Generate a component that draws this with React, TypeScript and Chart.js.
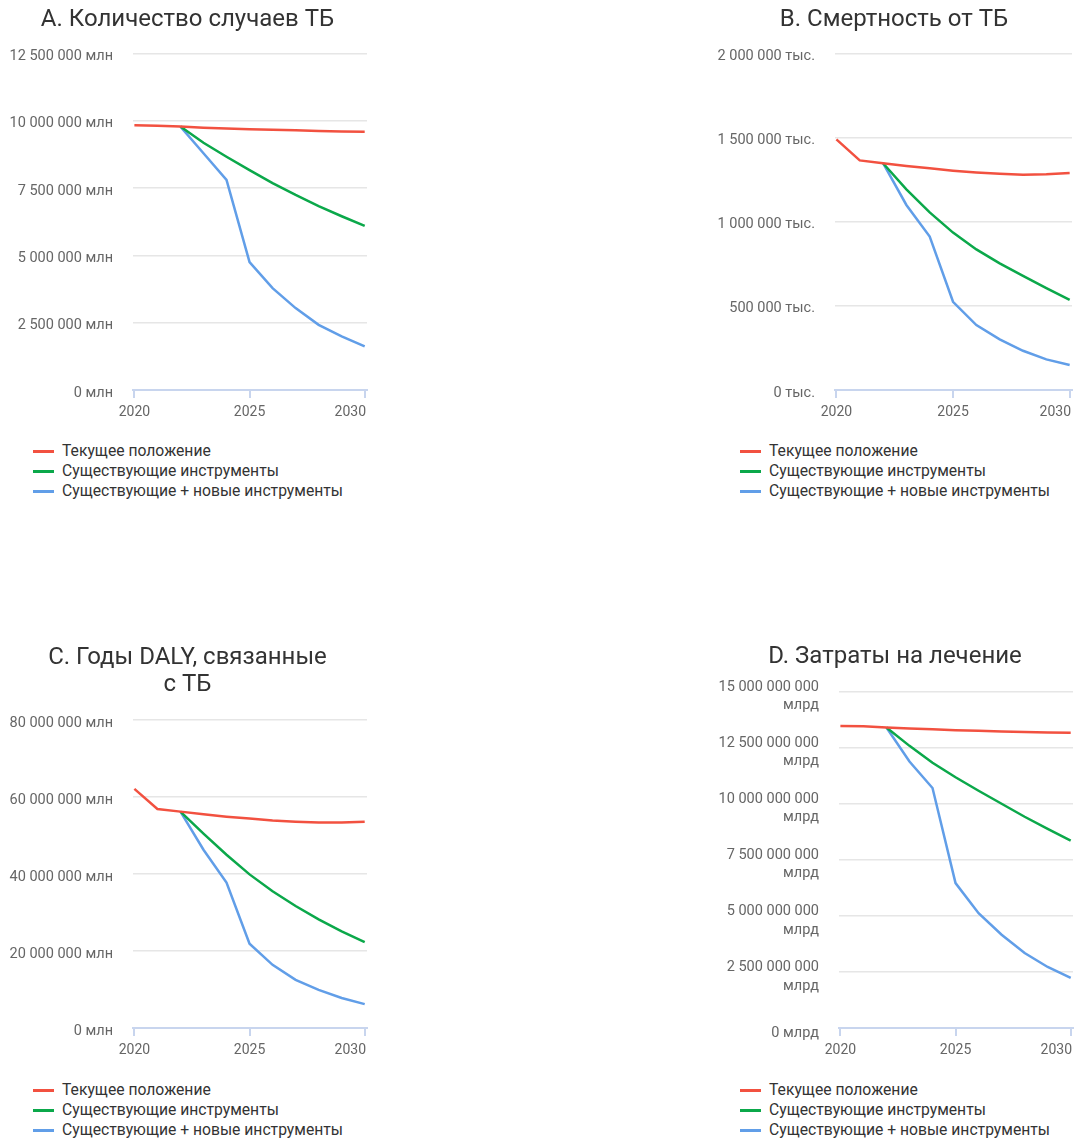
import React, { useEffect, useRef } from "react";
import { Chart, registerables } from "chart.js";

Chart.register(...registerables);

// ---------- data ----------
const years = [2020, 2021, 2022, 2023, 2024, 2025, 2026, 2027, 2028, 2029, 2030];
const xTickYears = [2020, 2025, 2030];
const seriesLabels = [
  "Текущее положение",
  "Существующие инструменты",
  "Существующие + новые инструменты",
];
const seriesColors = ["#f25140", "#0ba84a", "#619ee8"];

// A. cases (млн)
const casesCurrent = [9830000, 9810000, 9780000, 9740000, 9710000, 9680000, 9660000, 9640000, 9620000, 9600000, 9590000];
const casesExisting = [null, null, 9780000, 9180000, 8660000, 8160000, 7680000, 7240000, 6830000, 6450000, 6090000];
const casesNew = [null, null, 9780000, 8790000, 7800000, 4750000, 3780000, 3040000, 2420000, 1990000, 1620000];
const casesTicks = [0, 2500000, 5000000, 7500000, 10000000, 12500000];

// B. deaths (тыс.)
const deathsCurrent = [1489000, 1364000, 1347000, 1331000, 1317000, 1303000, 1292000, 1284000, 1279000, 1282000, 1289000];
const deathsExisting = [null, null, 1347000, 1192000, 1055000, 935000, 835000, 752000, 678000, 605000, 535000];
const deathsNew = [null, null, 1347000, 1099000, 911000, 524000, 386000, 301000, 233000, 182000, 149000];
const deathsTicks = [0, 500000, 1000000, 1500000, 2000000];

// C. DALY (млн)
const dalyCurrent = [62100000, 56900000, 56200000, 55500000, 54900000, 54400000, 53900000, 53600000, 53400000, 53400000, 53600000];
const dalyExisting = [null, null, 56200000, 50500000, 45000000, 39900000, 35500000, 31700000, 28200000, 25100000, 22300000];
const dalyNew = [null, null, 56200000, 46300000, 37800000, 21900000, 16400000, 12500000, 9900000, 7800000, 6200000];
const dalyTicks = [0, 20000000, 40000000, 60000000, 80000000];

// D. treatment costs (млрд)
const costCurrent = [13470000000, 13450000000, 13400000000, 13360000000, 13320000000, 13280000000, 13250000000, 13220000000, 13200000000, 13180000000, 13170000000];
const costExisting = [null, null, 13400000000, 12580000000, 11830000000, 11180000000, 10580000000, 10000000000, 9420000000, 8880000000, 8360000000];
const costNew = [null, null, 13400000000, 11880000000, 10700000000, 6460000000, 5120000000, 4160000000, 3340000000, 2720000000, 2230000000];
const costTicks = [0, 2500000000, 5000000000, 7500000000, 10000000000, 12500000000, 15000000000];

// ---------- helpers ----------
const FONT = "Roboto, 'Noto Sans', sans-serif";

function groupDigits(n: number): string {
  return String(Math.round(n)).replace(/\B(?=(\d{3})+(?!\d))/g, " ");
}

const xLabelPlugin = {
  id: "xLabels",
  afterDraw(chart: any) {
    const { ctx, chartArea, scales } = chart;
    const xs = scales.x;
    ctx.save();
    ctx.font = `14px ${FONT}`;
    ctx.fillStyle = "#666666";
    ctx.textBaseline = "alphabetic";
    xTickYears.forEach((v) => {
      const px = xs.getPixelForValue(v);
      const t = String(v);
      const w = ctx.measureText(t).width;
      if (px + w / 2 > chartArea.right) {
        ctx.textAlign = "right";
        ctx.fillText(t, chartArea.right - 1, chartArea.bottom + 26);
      } else {
        ctx.textAlign = "center";
        ctx.fillText(t, px, chartArea.bottom + 26);
      }
    });
    ctx.restore();
  },
};

type PanelProps = {
  left: number;
  top: number;
  width: number;
  height: number;
  title: string | string[];
  titlePadBottom: number;
  series: (number | null)[][];
  yTicks: number[];
  unit: string;
  twoLineTicks?: boolean;
  yWidth: number;
  sidePad: number;
  legendLeft: number;
  legendTop: number;
};

function Panel(p: PanelProps) {
  const ref = useRef<HTMLCanvasElement | null>(null);

  useEffect(() => {
    if (!ref.current) return;
    const datasets = p.series.map((vals, si) => ({
      label: seriesLabels[si],
      data: years
        .map((yr, i) => ({ x: yr, y: vals[i] }))
        .filter((d) => d.y !== null),
      borderColor: seriesColors[si],
      backgroundColor: seriesColors[si],
      borderWidth: 2.5,
      pointRadius: 0,
      tension: 0,
      fill: false,
    }));
    const chart = new Chart(ref.current, {
      type: "line",
      data: { datasets },
      options: {
        responsive: false,
        animation: false,
        events: [],
        layout: { padding: { left: p.sidePad, right: p.sidePad, top: 0, bottom: 30 } },
        plugins: {
          legend: { display: false },
          tooltip: { enabled: false },
          title: {
            display: true,
            text: p.title,
            color: "#333333",
            font: { family: FONT, size: 24, weight: "normal", lineHeight: 1.15 },
            padding: { top: 6, bottom: p.titlePadBottom },
          },
        },
        scales: {
          x: {
            type: "linear",
            min: 2019.94,
            max: 2030.1,
            afterBuildTicks: (scale: any) => {
              scale.ticks = xTickYears.map((v) => ({ value: v }));
            },
            ticks: { display: false },
            grid: {
              drawOnChartArea: false,
              drawTicks: true,
              tickLength: 8,
              color: "#c8d5ee",
              lineWidth: 2,
            },
            border: { display: true, color: "#c8d5ee", width: 2 },
          },
          y: {
            type: "linear",
            min: p.yTicks[0],
            max: p.yTicks[p.yTicks.length - 1],
            afterBuildTicks: (scale: any) => {
              scale.ticks = p.yTicks.map((v) => ({ value: v }));
            },
            afterFit: (scale: any) => {
              scale.width = p.yWidth;
            },
            ticks: {
              padding: 20,
              color: "#666666",
              font: { family: FONT, size: 14.5, lineHeight: 1.25 },
              labelOffset: p.twoLineTicks ? 5 : 3,
              autoSkip: false,
              callback: (v: any) => {
                const n = Number(v);
                if (p.twoLineTicks && n !== 0) return [groupDigits(n), p.unit];
                return `${groupDigits(n)} ${p.unit}`;
              },
            },
            grid: { color: "#e6e6e6", lineWidth: 1.5, drawTicks: false },
            border: { display: false },
          },
        },
      },
      plugins: [xLabelPlugin],
    } as any);
    return () => chart.destroy();
  }, []);

  return (
    <>
      <div style={{ position: "absolute", left: p.left, top: p.top, width: p.width, height: p.height }}>
        <canvas ref={ref} width={p.width} height={p.height} style={{ display: "block" }} />
      </div>
      <div
        style={{
          position: "absolute",
          left: p.legendLeft,
          top: p.legendTop,
          fontFamily: FONT,
          fontSize: 15.7,
          color: "#333333",
        }}
      >
        {seriesLabels.map((lab, i) => (
          <div key={lab} style={{ display: "flex", alignItems: "center", height: 20, lineHeight: "20px", whiteSpace: "nowrap" }}>
            <span style={{ display: "inline-block", width: 21, height: 3, background: seriesColors[i], marginRight: 8 }} />
            <span>{lab}</span>
          </div>
        ))}
      </div>
    </>
  );
}

export default function App() {
  return (
    <div style={{ position: "absolute", left: 0, top: 0, width: 1077, height: 1140 }}>
      <Panel
        left={0}
        top={0}
        width={375}
        height={428}
        title="A. Количество случаев ТБ"
        titlePadBottom={19.7}
        series={[casesCurrent, casesExisting, casesNew]}
        yTicks={casesTicks}
        unit="млн"
        yWidth={125}
        sidePad={8}
        legendLeft={33}
        legendTop={441}
      />
      <Panel
        left={712}
        top={0}
        width={364}
        height={428}
        title="B. Смертность от ТБ"
        titlePadBottom={19.7}
        series={[deathsCurrent, deathsExisting, deathsNew]}
        yTicks={deathsTicks}
        unit="тыс."
        yWidth={119}
        sidePad={4}
        legendLeft={740}
        legendTop={441}
      />
      <Panel
        left={0}
        top={638}
        width={375}
        height={428}
        title={["C. Годы DALY, связанные", "с ТБ"]}
        titlePadBottom={20.8}
        series={[dalyCurrent, dalyExisting, dalyNew]}
        yTicks={dalyTicks}
        unit="млн"
        yWidth={125}
        sidePad={8}
        legendLeft={33}
        legendTop={1080}
      />
      <Panel
        left={713}
        top={637}
        width={364}
        height={429}
        title="D. Затраты на лечение"
        titlePadBottom={21}
        series={[costCurrent, costExisting, costNew]}
        yTicks={costTicks}
        unit="млрд"
        twoLineTicks
        yWidth={122}
        sidePad={4}
        legendLeft={740}
        legendTop={1080}
      />
    </div>
  );
}
